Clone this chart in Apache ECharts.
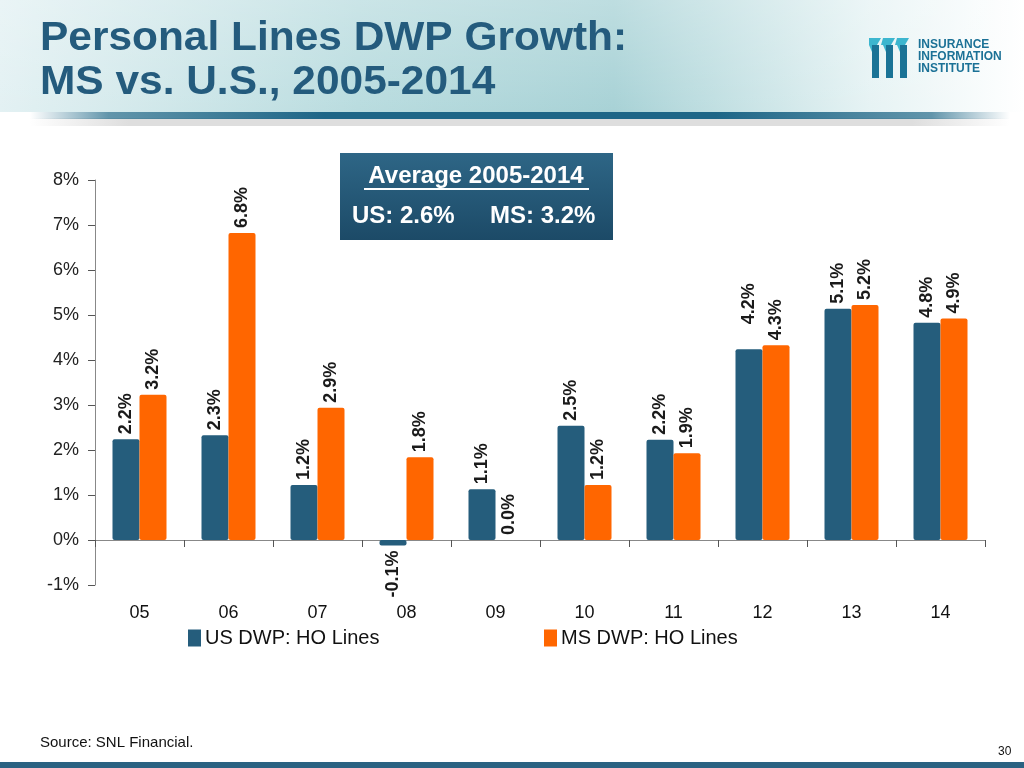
<!DOCTYPE html>
<html>
<head>
<meta charset="utf-8">
<script src="https://cdn.jsdelivr.net/npm/echarts@6/dist/echarts.min.js"></script>
<style>
html,body{margin:0;padding:0;background:#fff;}
#chart{width:1024px;height:768px;}
</style>
</head>
<body>
<div id="chart"></div>
<script>
// ---- Data ----
const categories = ['05','06','07','08','09','10','11','12','13','14'];
const usValues = [2.24, 2.33, 1.22, -0.12, 1.13, 2.54, 2.23, 4.24, 5.14, 4.83];
const msValues = [3.23, 6.82, 2.94, 1.84, 0.0, 1.22, 1.93, 4.33, 5.22, 4.92];
const seriesNames = ['US DWP: HO Lines', 'MS DWP: HO Lines'];
const yTicks = { min: -1, max: 8, interval: 1 };
const titleLines = ['Personal Lines DWP Growth:', 'MS vs. U.S., 2005-2014'];
const boxTitle = 'Average 2005-2014';
const boxUS = 'US: 2.6%';
const boxMS = 'MS: 3.2%';
const sourceText = 'Source: SNL Financial.';
const pageNo = '30';

const US_COLOR = '#255d7c';
const MS_COLOR = '#ff6600';
const TEXT_FONT = 'Liberation Sans, Arial, sans-serif';

const chart = echarts.init(document.getElementById('chart'), null, {renderer: 'canvas'});

function labelFor(v, extraLift) {
  const base = {
    show: true, rotate: 90, fontSize: 18, fontWeight: 'bold', color: '#1a1a1a',
    fontFamily: TEXT_FONT,
    formatter: p => p.value.toFixed(1) + '%'
  };
  if (v < 0) {
    return Object.assign(base, {position: 'bottom', align: 'right', verticalAlign: 'middle', distance: 5});
  }
  return Object.assign(base, {position: 'top', align: 'left', verticalAlign: 'middle', distance: 5 + (extraLift || 0)});
}

const labelLift = {us: {7: 20}, ms: {}};

function buildData(values, key) {
  return values.map((v, i) => ({value: v, label: labelFor(v, labelLift[key][i])}));
}

const graphics = [
  // header background
  {type: 'rect', z: -10, shape: {x: 0, y: 0, width: 1024, height: 112},
   style: {fill: new echarts.graphic.LinearGradient(0, 0, 1, 0, [
     {offset: 0, color: '#e3f1f3'}, {offset: 0.35, color: '#b9dcdf'},
     {offset: 0.6, color: '#a8d2d6'}, {offset: 0.85, color: '#e6f3f4'}, {offset: 1, color: '#ffffff'}])}},
  {type: 'rect', z: -10, shape: {x: 0, y: 0, width: 1024, height: 112},
   style: {fill: new echarts.graphic.LinearGradient(0, 0, 0, 1, [
     {offset: 0, color: 'rgba(255,255,255,0.25)'}, {offset: 1, color: 'rgba(255,255,255,0)'}])}},
  // header underline
  {type: 'rect', z: -9, shape: {x: 30, y: 118, width: 980, height: 8},
   style: {fill: new echarts.graphic.LinearGradient(0, 0, 1, 0, [
     {offset: 0, color: 'rgba(200,200,200,0)'}, {offset: 0.1, color: 'rgba(200,200,200,0.6)'},
     {offset: 0.9, color: 'rgba(200,200,200,0.6)'}, {offset: 1, color: 'rgba(200,200,200,0)'}])}},
  {type: 'rect', z: -8, shape: {x: 30, y: 112, width: 980, height: 7},
   style: {fill: new echarts.graphic.LinearGradient(0, 0, 1, 0, [
     {offset: 0, color: 'rgba(31,104,135,0)'}, {offset: 0.08, color: 'rgba(31,104,135,0.7)'},
     {offset: 0.3, color: '#1e6687'}, {offset: 0.7, color: '#1e6687'},
     {offset: 0.92, color: 'rgba(31,104,135,0.7)'}, {offset: 1, color: 'rgba(31,104,135,0)'}])}},
  // title
  {type: 'text', x: 40, y: 18, scaleX: 1.035, style: {text: titleLines[0], fill: '#245b7d',
   verticalAlign: 'top', font: 'bold 41px ' + TEXT_FONT}},
  {type: 'text', x: 40, y: 62, scaleX: 1.035, style: {text: titleLines[1], fill: '#245b7d',
   verticalAlign: 'top', font: 'bold 41px ' + TEXT_FONT}},
  // logo icon
  {type: 'group', x: 869, y: 38, children: [
    {type: 'polygon', shape: {points: [[0,0],[12,0],[8,7],[0,7]]}, style: {fill: '#3cb6cf'}},
    {type: 'polygon', shape: {points: [[14,0],[26,0],[22,7],[12,7]]}, style: {fill: '#3cb6cf'}},
    {type: 'polygon', shape: {points: [[28,0],[40,0],[36,7],[26,7]]}, style: {fill: '#3cb6cf'}},
    {type: 'rect', shape: {x: 3, y: 7, width: 7, height: 33}, style: {fill: '#1a7396'}},
    {type: 'rect', shape: {x: 17, y: 7, width: 7, height: 33}, style: {fill: '#1a7396'}},
    {type: 'rect', shape: {x: 31, y: 7, width: 7, height: 33}, style: {fill: '#1a7396'}},
    {type: 'polygon', shape: {points: [[0,7],[3,7],[3,14]]}, style: {fill: '#3cb6cf'}},
    {type: 'polygon', shape: {points: [[14,7],[17,7],[17,14]]}, style: {fill: '#3cb6cf'}},
    {type: 'polygon', shape: {points: [[28,7],[31,7],[31,14]]}, style: {fill: '#3cb6cf'}}
  ]},
  {type: 'text', left: 918, top: 39, style: {text: 'INSURANCE', fill: '#1b7196', font: 'bold 12px ' + TEXT_FONT}},
  {type: 'text', left: 918, top: 51, style: {text: 'INFORMATION', fill: '#1b7196', font: 'bold 12px ' + TEXT_FONT}},
  {type: 'text', left: 918, top: 63, style: {text: 'INSTITUTE', fill: '#1b7196', font: 'bold 12px ' + TEXT_FONT}},
  // average box
  {type: 'rect', shape: {x: 340, y: 153, width: 273, height: 87},
   style: {fill: new echarts.graphic.LinearGradient(0, 0, 0, 1, [
     {offset: 0, color: '#2e6686'}, {offset: 1, color: '#1c4a67'}])}},
  {type: 'text', x: 476, y: 176, style: {text: boxTitle, fill: '#ffffff', align: 'center', verticalAlign: 'middle',
   font: 'bold 24px ' + TEXT_FONT}},
  {type: 'line', shape: {x1: 364, y1: 189, x2: 589, y2: 189}, style: {stroke: '#ffffff', lineWidth: 2}},
  {type: 'text', x: 352, y: 216, style: {text: boxUS, fill: '#ffffff', verticalAlign: 'middle',
   font: 'bold 24px ' + TEXT_FONT}},
  {type: 'text', x: 490, y: 216, style: {text: boxMS, fill: '#ffffff', verticalAlign: 'middle',
   font: 'bold 24px ' + TEXT_FONT}},
  // footer
  {type: 'text', left: 40, top: 735, style: {text: sourceText, fill: '#111', font: '15px ' + TEXT_FONT}},
  {type: 'text', left: 998, top: 746, style: {text: pageNo, fill: '#111', font: '12px ' + TEXT_FONT}},
  {type: 'rect', shape: {x: 0, y: 762, width: 1024, height: 6}, style: {fill: '#2a6282'}}
];

const option = {
  backgroundColor: '#ffffff',
  animation: false,
  textStyle: {fontFamily: TEXT_FONT},
  grid: {left: 95, right: 39, top: 180, bottom: 183, containLabel: false},
  legend: [
    {data: [seriesNames[0]], left: 183, top: 623, icon: 'rect', itemWidth: 13, itemHeight: 17, itemGap: 4,
     textStyle: {fontSize: 20, color: '#111', fontFamily: TEXT_FONT, padding: [0,0,0,-1]}},
    {data: [seriesNames[1]], left: 539, top: 623, icon: 'rect', itemWidth: 13, itemHeight: 17, itemGap: 4,
     textStyle: {fontSize: 20, color: '#111', fontFamily: TEXT_FONT, padding: [0,0,0,-1]}}
  ],
  xAxis: [
    {type: 'category', data: categories, position: 'bottom', gridIndex: 0,
     axisLine: {show: false, onZero: false}, axisTick: {show: false},
     axisLabel: {fontSize: 18, color: '#111', margin: 19}},
    {type: 'category', data: categories, position: 'bottom', gridIndex: 0,
     axisLine: {show: true, onZero: true, lineStyle: {color: '#888', width: 1}},
     axisTick: {show: true, length: 7, lineStyle: {color: '#555'}},
     axisLabel: {show: false}}
  ],
  yAxis: {
    type: 'value', min: yTicks.min, max: yTicks.max, interval: yTicks.interval,
    axisLine: {show: true, lineStyle: {color: '#888'}},
    axisTick: {show: true, length: 7, lineStyle: {color: '#555'}},
    splitLine: {show: false},
    axisLabel: {fontSize: 18, color: '#222', margin: 16, formatter: v => v + '%'}
  },
  series: [
    {name: seriesNames[0], type: 'bar', xAxisIndex: 0, barWidth: 27, barGap: '0%',
     itemStyle: {color: US_COLOR, borderRadius: 2}, data: buildData(usValues, 'us')},
    {name: seriesNames[1], type: 'bar', xAxisIndex: 0, barWidth: 27, barGap: '0%',
     itemStyle: {color: MS_COLOR, borderRadius: 2}, data: buildData(msValues, 'ms')}
  ],
  graphic: graphics
};
chart.setOption(option);
</script>
</body>
</html>
